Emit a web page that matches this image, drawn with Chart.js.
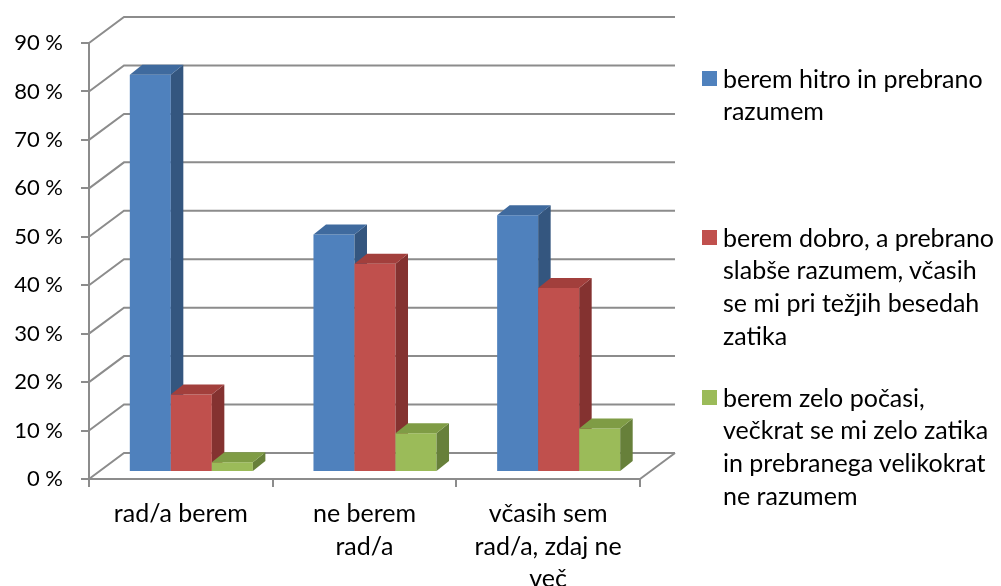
<!DOCTYPE html>
<html>
<head>
<meta charset="utf-8">
<script src="https://cdn.jsdelivr.net/npm/chart.js@4"></script>
<style>
  html, body { margin: 0; padding: 0; background: #fff; }
  #wrap { position: relative; width: 1001px; height: 586px; }
  #chart { position: absolute; left: 0; top: 0; }
  .item { position: absolute; left: 723px; font-family: Lato, sans-serif; font-size: 25px; line-height: 32.7px; color: #000; white-space: nowrap; }
  .box { position: absolute; left: -21px; top: 9px; width: 15px; height: 15px; }
</style>
</head>
<body>
<div id="wrap">
  <canvas id="chart" width="1001" height="586"></canvas>
  <div id="legend"></div>
</div>
<script>
// podatki (odčitani s slike)
const categories = [['rad/a berem'], ['ne berem', 'rad/a'], ['včasih sem', 'rad/a, zdaj ne', 'več']];
const seriesNames = [
  ['berem hitro in prebrano', 'razumem'],
  ['berem dobro, a prebrano', 'slabše razumem, včasih', 'se mi pri težjih besedah', 'zatika'],
  ['berem zelo počasi,', 'večkrat se mi zelo zatika', 'in prebranega velikokrat', 'ne razumem']
];
const fastValues = [82, 49, 53];
const goodValues = [16, 43, 38];
const slowValues = [2, 8, 9];
const yTicks = [0, 10, 20, 30, 40, 50, 60, 70, 80, 90];

const colors = [
  { front: '#4F81BD', side: '#34567F', top: '#3F6A9E' },
  { front: '#C0504D', side: '#843230', top: '#A23F3C' },
  { front: '#9BBB59', side: '#67803A', top: '#7F9C45' }
];
const legendTops = [61.6, 220.6, 380.6];

// globina 3D
const WALL_DX = 35, WALL_DY = -26;
const BAR_OX = 10.5, BAR_OY = -7;
const BAR_DX = 12.5, BAR_DY = -10;

function poly(ctx, pts, fill) {
  ctx.beginPath();
  ctx.moveTo(pts[0][0], pts[0][1]);
  for (let i = 1; i < pts.length; i++) ctx.lineTo(pts[i][0], pts[i][1]);
  ctx.closePath();
  ctx.fillStyle = fill;
  ctx.fill();
}

const depthPlugin = {
  id: 'depth3d',
  beforeDatasetsDraw(chart) {
    const { ctx, chartArea: a, scales: { y } } = chart;
    ctx.save();
    ctx.strokeStyle = '#8C8C8C';
    ctx.lineWidth = 2;
    yTicks.forEach(v => {
      const py = y.getPixelForValue(v);
      ctx.beginPath();
      ctx.moveTo(a.left, py);
      ctx.lineTo(a.left + WALL_DX, py + WALL_DY);
      ctx.lineTo(a.right + WALL_DX, py + WALL_DY);
      ctx.stroke();
    });
    ctx.beginPath();
    ctx.moveTo(a.right, a.bottom);
    ctx.lineTo(a.right + WALL_DX, a.bottom + WALL_DY);
    ctx.stroke();

    chart.data.datasets.forEach((ds, di) => {
      const c = colors[di];
      chart.getDatasetMeta(di).data.forEach(bar => {
        const p = bar.getProps(['x', 'y', 'base', 'width'], true);
        const l = p.x - p.width / 2 + BAR_OX, r = p.x + p.width / 2 + BAR_OX;
        const t = p.y + BAR_OY, b = p.base + BAR_OY;
        poly(ctx, [[l, t], [r, t], [r, b], [l, b]], c.front);
        poly(ctx, [[r, t], [r + BAR_DX, t + BAR_DY], [r + BAR_DX, b + BAR_DY], [r, b]], c.side);
        poly(ctx, [[l, t], [l + BAR_DX, t + BAR_DY], [r + BAR_DX, t + BAR_DY], [r, t]], c.top);
      });
    });
    ctx.restore();
    return false;
  }
};

new Chart(document.getElementById('chart'), {
  type: 'bar',
  data: {
    labels: categories,
    datasets: [
      { label: seriesNames[0].join(' '), data: fastValues, backgroundColor: colors[0].front },
      { label: seriesNames[1].join(' '), data: goodValues, backgroundColor: colors[1].front },
      { label: seriesNames[2].join(' '), data: slowValues, backgroundColor: colors[2].front }
    ]
  },
  options: {
    responsive: false,
    animation: false,
    layout: { padding: { left: 0, top: 43, right: 361, bottom: 0 } },
    datasets: { bar: { categoryPercentage: 0.67, barPercentage: 1 } },
    plugins: { legend: { display: false }, tooltip: { enabled: false } },
    scales: {
      x: {
        afterFit: s => { s.height = 107; },
        grid: { display: true, drawOnChartArea: false, offset: true, tickLength: 8, color: '#8C8C8C', lineWidth: 2 },
        border: { display: true, color: '#8C8C8C', width: 2 },
        ticks: { font: { family: 'Lato, sans-serif', size: 25, lineHeight: 1.3 }, color: '#000', padding: 11, maxRotation: 0, autoSkip: false },
      },
      y: {
        min: 0, max: 90,
        afterFit: s => { s.width = 89; },
        grid: { display: true, drawOnChartArea: false, tickLength: 8, color: '#8C8C8C', lineWidth: 2 },
        border: { display: true, color: '#8C8C8C', width: 2 },
        ticks: { stepSize: 10, font: { family: 'Lato, sans-serif', size: 22 }, color: '#000', padding: 18, callback: v => v + ' %' }
      }
    }
  },
  plugins: [depthPlugin]
});

// legenda
const legend = document.getElementById('legend');
seriesNames.forEach((lines, i) => {
  const el = document.createElement('div');
  el.className = 'item';
  el.style.top = legendTops[i] + 'px';
  el.innerHTML = '<span class="box" style="background:' + colors[i].front + '"></span>' + lines.join('<br>');
  legend.appendChild(el);
});
</script>
</body>
</html>
